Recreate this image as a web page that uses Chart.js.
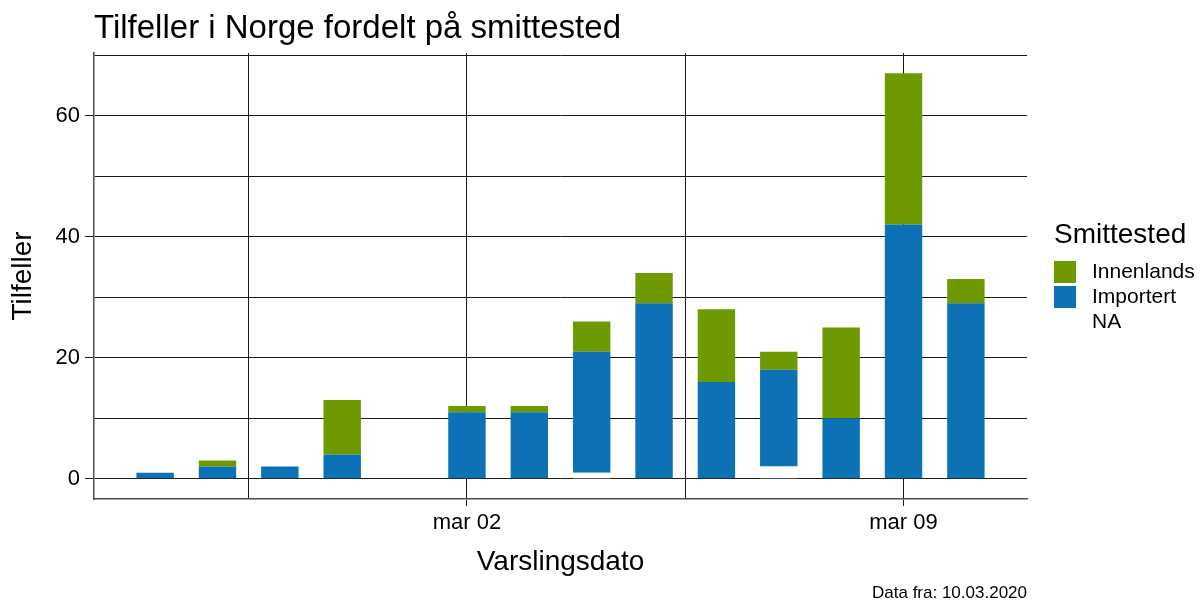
<!DOCTYPE html>
<html>
<head>
<meta charset="utf-8">
<script src="https://cdn.jsdelivr.net/npm/chart.js@4/dist/chart.umd.min.js"></script>
<style>
  body { margin: 0; background: #fff; }
  #wrap { width: 1203px; height: 602px; }
</style>
</head>
<body>
<div id="wrap"><canvas id="cases" width="1203" height="602"></canvas></div>
<script>
// Tilfeller per varslingsdato (index 0 = 26. feb 2020)
const dates = ['feb 26', 'feb 27', 'feb 28', 'feb 29', 'mar 01', 'mar 02', 'mar 03',
               'mar 04', 'mar 05', 'mar 06', 'mar 07', 'mar 08', 'mar 09', 'mar 10'];
const innenlands = [0, 1, 0, 9, 0, 1, 1, 5, 5, 12, 3, 15, 25, 4];
const importert  = [1, 2, 2, 4, 0, 11, 11, 20, 29, 16, 16, 10, 42, 29];
const ukjent     = [0, 0, 0, 0, 0, 0, 0, 1, 0, 0, 2, 0, 0, 0];

// axis breaks and labels
const xBreaks = [1.5, 5, 8.5, 12];
const xLabels = ['', 'mar 02', '', 'mar 09'];
const yBreaks = [0, 10, 20, 30, 40, 50, 60, 70];
const yLabels = ['0', '', '20', '', '40', '', '60', ''];

const FONT = '"Liberation Sans", Arial, sans-serif';
const GREEN = '#6E9A00';
const BLUE = '#0C72B5';
const GRID = '#1a1a1a';
const AXIS = '#4d4d4d';
const NONE = 'rgba(0,0,0,0)';

const toPoints = arr => arr.map((v, i) => ({ x: i, y: v }));

// ggplot style legend drawn in the right margin
const sideLegend = {
    id: 'sideLegend',
    afterDraw(chart) {
        const ctx = chart.ctx;
        const x0 = 1054;
        ctx.save();
        ctx.fillStyle = '#000';
        ctx.textBaseline = 'middle';
        ctx.textAlign = 'left';
        ctx.font = '28px ' + FONT;
        ctx.fillText('Smittested', x0, 235);
        ctx.font = '21px ' + FONT;
        const items = chart.data.datasets.slice().reverse();
        items.forEach((ds, i) => {
            const y = 261 + i * 25;
            if (ds.legendFill) {
                ctx.fillStyle = ds.backgroundColor;
                ctx.fillRect(x0, y, 22, 22);
            }
            ctx.fillStyle = '#000';
            ctx.fillText(ds.label, 1092, y + 11.5);
        });
        ctx.restore();
    }
};

// tick marks only where there is a label
function tickColorFor(breaks, labels) {
    return c => {
        if (!c.tick) return NONE;
        const i = breaks.indexOf(c.tick.value);
        return i >= 0 && labels[i] ? GRID : NONE;
    };
}
function labelFor(breaks, labels) {
    return v => {
        const i = breaks.indexOf(v);
        return i >= 0 ? labels[i] : '';
    };
}

new Chart(document.getElementById('cases').getContext('2d'), {
    type: 'bar',
    data: {
        datasets: [
            { label: 'NA', data: toPoints(ukjent), backgroundColor: '#ffffff', legendFill: false },
            { label: 'Importert', data: toPoints(importert), backgroundColor: BLUE, legendFill: true },
            { label: 'Innenlands', data: toPoints(innenlands), backgroundColor: GREEN, legendFill: true }
        ]
    },
    options: {
        responsive: false,
        animation: false,
        categoryPercentage: 1,
        barPercentage: 0.6,
        layout: {
            autoPadding: false,
            padding: { left: 0, right: 176, top: 0, bottom: 0 }
        },
        scales: {
            x: {
                type: 'linear',
                stacked: true,
                offset: false,
                min: -0.98,
                max: 13.98,
                z: 1,
                afterBuildTicks: scale => {
                    scale.ticks = xBreaks.map(v => ({ value: v }));
                },
                grid: {
                    offset: false,
                    color: GRID,
                    lineWidth: 1,
                    tickLength: 7,
                    tickColor: tickColorFor(xBreaks, xLabels)
                },
                border: { color: AXIS, width: 1.5 },
                ticks: {
                    autoSkip: false,
                    maxRotation: 0,
                    padding: 4,
                    color: '#000',
                    font: { family: FONT, size: 22 },
                    callback: labelFor(xBreaks, xLabels)
                },
                title: {
                    display: true,
                    text: 'Varslingsdato',
                    color: '#000',
                    font: { family: FONT, size: 28 },
                    padding: { top: 4.8, bottom: 6.2 }
                }
            },
            y: {
                stacked: true,
                min: -3.35,
                max: 70.35,
                z: 1,
                afterBuildTicks: scale => {
                    scale.ticks = yBreaks.map(v => ({ value: v }));
                },
                afterFit: scale => { scale.width = 94; },
                grid: {
                    color: GRID,
                    lineWidth: 1,
                    tickLength: 9,
                    tickColor: tickColorFor(yBreaks, yLabels)
                },
                border: { color: AXIS, width: 1.5 },
                ticks: {
                    autoSkip: false,
                    padding: 5,
                    color: '#000',
                    font: { family: FONT, size: 22 },
                    callback: labelFor(yBreaks, yLabels)
                },
                title: {
                    display: true,
                    text: 'Tilfeller',
                    color: '#000',
                    font: { family: FONT, size: 28 },
                    padding: { top: 6.7, bottom: 0 }
                }
            }
        },
        plugins: {
            legend: { display: false },
            tooltip: { enabled: false },
            title: {
                display: true,
                text: 'Tilfeller i Norge fordelt på smittested',
                align: 'start',
                fullSize: false,
                color: '#000',
                font: { family: FONT, size: 33, weight: 'normal' },
                padding: { top: 8.7, bottom: 4.7 }
            },
            subtitle: {
                display: true,
                text: 'Data fra: 10.03.2020',
                position: 'bottom',
                align: 'end',
                fullSize: false,
                color: '#000',
                font: { family: FONT, size: 17, lineHeight: 1 },
                padding: 0
            }
        }
    },
    plugins: [sideLegend]
});
</script>
</body>
</html>
